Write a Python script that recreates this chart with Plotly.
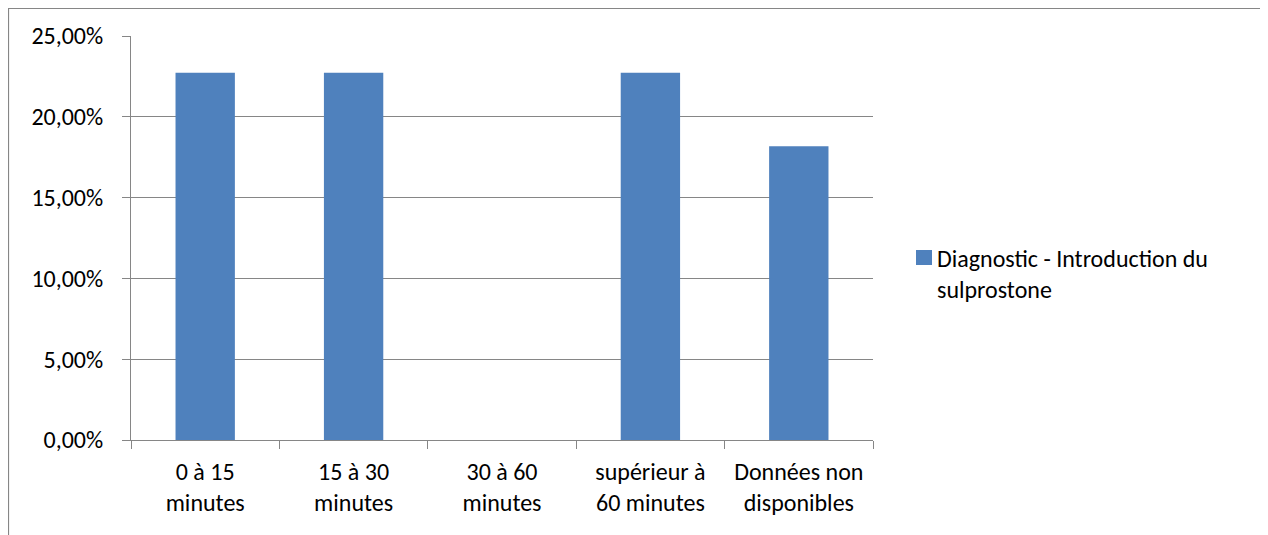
import plotly.graph_objects as go

# categories and values
categories = ["0 à 15<br>minutes", "15 à 30<br>minutes", "30 à 60<br>minutes",
              "supérieur à<br>60 minutes", "Données non<br>disponibles"]
values = [0.2273, 0.2273, 0.0, 0.2273, 0.1818]
series_name = "Diagnostic - Introduction du<br>sulprostone"
y_ticks = [0, 0.05, 0.10, 0.15, 0.20, 0.25]

BAR = "#4F81BD"
GRID = "#868686"

# page is drawn with an 8px body margin, so work in figure pixels (window - 8)
OFF = 8
W, H = 1268, 535
ml, mt = 131 - OFF, 36 - OFF
mr = W - (873 - OFF)
mb = H - (440 - OFF)
pw, ph = W - ml - mr, H - mt - mb

def px_x(x):
    return (x - OFF - ml) / pw

def px_y(y):
    return (H - mb - (y - OFF)) / ph

fig = go.Figure()
fig.add_trace(go.Bar(x=categories, y=values, name=series_name,
                     marker=dict(color=BAR, line=dict(width=0)),
                     showlegend=False))

fig.update_layout(
    width=W, height=H,
    margin=dict(l=ml, r=mr, t=mt, b=mb),
    paper_bgcolor="white", plot_bgcolor="white",
    separators=", ",
    bargap=0.6,
    font=dict(family="Carlito, Calibri, Liberation Sans, Arial", size=24, color="black"),
    showlegend=False,
    xaxis=dict(type="category", showline=True, linecolor=GRID, linewidth=1,
               ticks="outside", ticklen=8, tickcolor=GRID, tickson="boundaries",
               ticklabelstandoff=10, showgrid=False, tickfont=dict(size=24)),
    yaxis=dict(range=[0, 0.25], tickvals=y_ticks, tickformat=".2%",
               showline=True, linecolor=GRID, linewidth=1,
               ticks="outside", ticklen=8, tickcolor=GRID, ticklabelstandoff=14,
               showgrid=True, gridcolor=GRID, gridwidth=1,
               zeroline=False, tickfont=dict(size=24)),
    shapes=[
        # chart border
        dict(type="rect", xref="paper", yref="paper",
             x0=px_x(8.5), x1=px_x(1265), y0=px_y(H + 20), y1=px_y(8.5),
             line=dict(color="#868686", width=1.2), layer="below"),
        dict(type="line", xref="paper", yref="paper",
             x0=px_x(1266.5), x1=px_x(1266.5), y0=px_y(H + 20), y1=px_y(9),
             line=dict(color="#A6A6A6", width=1.5)),
        # legend key
        dict(type="rect", xref="paper", yref="paper",
             x0=px_x(916), x1=px_x(932), y0=px_y(265), y1=px_y(250),
             fillcolor=BAR, line=dict(width=0)),
    ],
    annotations=[
        dict(text=series_name, xref="paper", yref="paper",
             x=px_x(935), y=px_y(274), xanchor="left", yanchor="middle",
             align="left", showarrow=False, font=dict(size=24)),
    ],
)

fig.write_html("out.html")
